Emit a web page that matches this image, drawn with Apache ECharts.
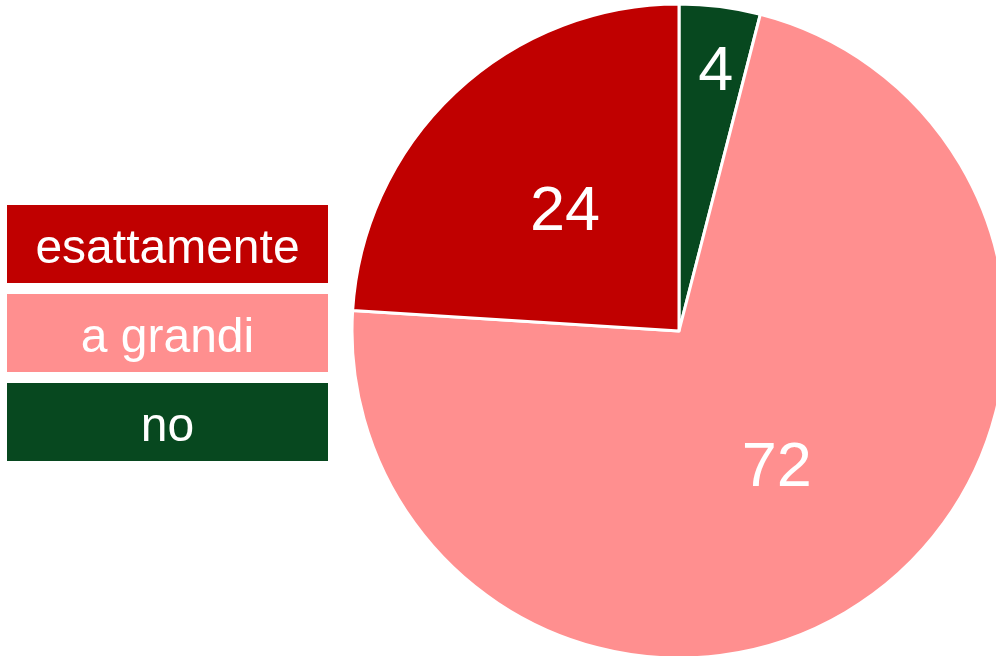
<!DOCTYPE html>
<html>
<head>
<meta charset="utf-8">
<script src="https://cdn.jsdelivr.net/npm/echarts@6/dist/echarts.min.js"></script>
<style>
  html, body { margin: 0; padding: 0; background: #fff; }
  #chart { width: 996px; height: 656px; }
</style>
</head>
<body>
<div id="chart"></div>
<script>
// dati (ordine orario dalle ore 12)
var categories = ['no', 'a grandi', 'esattamente'];
var values = [4, 72, 24];
var colors = ['#07481F', '#FF8F8F', '#C00000'];
// ordine della legenda
var legendOrder = ['esattamente', 'a grandi', 'no'];

var chart = echarts.init(document.getElementById('chart'));

var rich = {};
categories.forEach(function (name, i) {
	rich['c' + i] = {
		backgroundColor: colors[i],
		color: '#fff',
		width: 321,
		height: 66,
		lineHeight: 66,
		padding: [12, 0, 0, 0],
		align: 'center',
		fontSize: 48,
		fontFamily: 'Liberation Sans, Arial, sans-serif'
	};
});

var option = {
	animation: false,
	legend: {
		orient: 'vertical',
		left: 1,
		top: 205,
		padding: 0,
		itemGap: 11,
		itemWidth: 0,
		itemHeight: 0,
		icon: 'rect',
		selectedMode: false,
		data: legendOrder,
		formatter: function (name) {
			return '{c' + categories.indexOf(name) + '|' + name + '}';
		},
		textStyle: { rich: rich }
	},
	series: [{
		type: 'pie',
		center: [679, 331],
		radius: 327,
		startAngle: 90,
		clockwise: true,
		emphasis: { disabled: true },
		itemStyle: { borderColor: '#fff', borderWidth: 3 },
		label: {
			position: 'inside',
			formatter: '{c}',
			color: '#fff',
			fontSize: 63,
			fontFamily: 'Liberation Sans, Arial, sans-serif'
		},
		labelLayout: function (params) {
			// la fetta piccola ha l'etichetta verso il bordo
			if (params.dataIndex === 0) return { dx: 16, dy: -93 };
			return { dy: 3 };
		},
		data: categories.map(function (name, i) {
			return { name: name, value: values[i], itemStyle: { color: colors[i] } };
		})
	}]
};

chart.setOption(option);
</script>
</body>
</html>
